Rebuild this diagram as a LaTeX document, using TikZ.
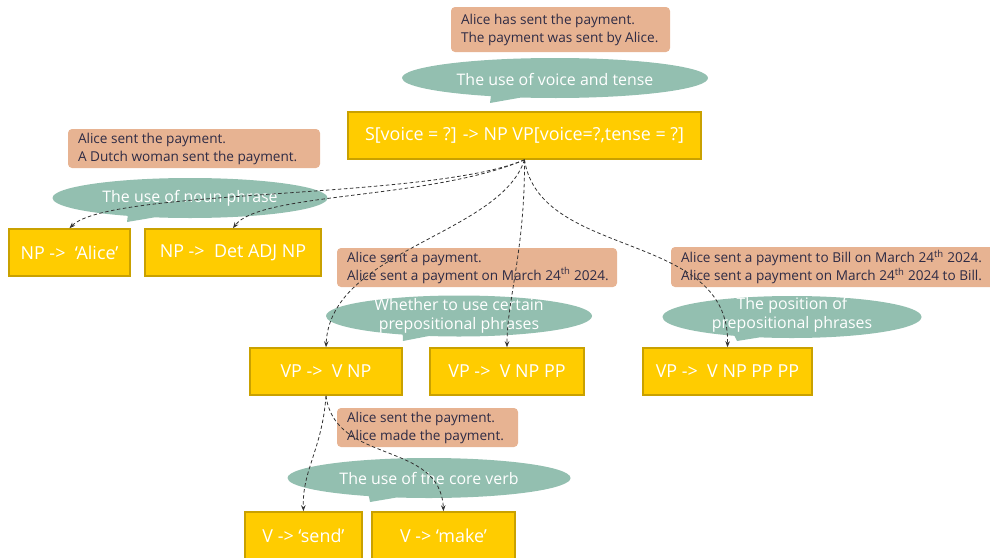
\documentclass[tikz,border=0pt]{standalone}
\usepackage{fontspec}
\setmainfont{Open Sans}
\usetikzlibrary{arrows.meta,shapes.callouts,shapes.geometric}
\definecolor{ybox}{HTML}{FFCC00}
\definecolor{yedge}{HTML}{C9A100}
\definecolor{salmon}{HTML}{E7B392}
\definecolor{teal}{HTML}{93BFB0}
\definecolor{ink}{HTML}{2E2B45}
\definecolor{conn}{HTML}{333333}
\begin{document}
\begin{tikzpicture}[x=1pt,y=-1pt,
  rule/.style={draw=yedge,line width=1.6pt,fill=ybox,text=white,inner sep=0pt,
    font=\fontsize{17.9}{21}\selectfont,minimum height=47pt},
  example/.style={fill=salmon,rounded corners=4pt,inner sep=0pt},
  extext/.style={text=ink,align=left,inner sep=0pt,anchor=west,
    font=\fontsize{13.6}{18}\selectfont},
  bubble/.style={ellipse callout,fill=teal,inner sep=0pt,callout pointer arc=12},
  btext/.style={text=white,align=center,font=\fontsize{15.9}{19.5}\selectfont,inner sep=0pt},
  conn/.style={draw=conn,dashed,dash pattern=on 3.5pt off 2.5pt,line width=0.8pt,-{Stealth[length=6pt,width=4.5pt]}}
]
\useasboundingbox (0,0) rectangle (990,557);

% examples
\node[example,minimum width=219pt,minimum height=45pt] (ex1) at (560.5,29.5) {};
\node[extext] (ex1t) at ([xshift=10pt]ex1.west)
  {Alice has sent the payment.\\The payment was sent by Alice.};
\node[example,minimum width=252pt,minimum height=39pt] (ex2) at (194,148.5) {};
\node[extext] (ex2t) at ([xshift=10pt]ex2.west)
  {Alice sent the payment.\\A Dutch woman sent the payment.};
\node[example,minimum width=280pt,minimum height=39pt] (ex3) at (477,267.5) {};
\node[extext] (ex3t) at ([xshift=10pt]ex3.west)
  {Alice sent a payment.\\Alice sent a payment on March 24\textsuperscript{th} 2024.};
\node[example,minimum width=325pt,minimum height=40pt] (ex4) at (833.5,267) {};
\node[extext] (ex4t) at ([xshift=10pt]ex4.west)
  {Alice sent a payment to Bill on March 24\textsuperscript{th} 2024.\\Alice sent a payment on March 24\textsuperscript{th} 2024 to Bill.};
\node[example,minimum width=181pt,minimum height=39pt] (ex5) at (427.5,427.5) {};
\node[extext] (ex5t) at ([xshift=10pt]ex5.west)
  {Alice sent the payment.\\Alice made the payment.};

% bubbles
\node[bubble,minimum width=306pt,minimum height=40pt,callout absolute pointer={(490,103)}] (b1) at (555,78) {};
\node[btext] (t1) at (555,79) {The use of voice and tense};
\node[bubble,minimum width=275pt,minimum height=40pt,callout absolute pointer={(127,222)}] (b2) at (190,198) {};
\node[btext] (t2) at (190,198) {The use of noun phrase};
\node[bubble,minimum width=266pt,minimum height=41pt,callout absolute pointer={(403,341)}] (b3) at (459,316) {};
\node[btext] (t3) at (459,316) {Whether to use certain\\prepositional phrases};
\node[bubble,minimum width=259pt,minimum height=42pt,callout absolute pointer={(737,341)}] (b4) at (792,317) {};
\node[btext] (t4) at (792,315) {The position of\\prepositional phrases};
\node[bubble,minimum width=283pt,minimum height=40pt,callout absolute pointer={(370,502)}] (b5) at (429,478) {};
\node[btext] (t5) at (429,478) {The use of the core verb};

% rules
\node[rule,minimum width=353pt] (s) at (524.5,135.5) {S[voice = ?] -> NP VP[voice=?,tense = ?]};
\node[rule,minimum width=121pt] (alice) at (69.5,252.5) {NP ->~ ‘Alice’};
\node[rule,minimum width=176pt] (det) at (233,252.5) {NP ->~ Det ADJ NP};
\node[rule,minimum width=152pt] (vpnp) at (326,371.5) {VP ->~ V NP};
\node[rule,minimum width=154pt] (vpnppp) at (507,371.5) {VP ->~ V NP PP};
\node[rule,minimum width=169pt] (vp3) at (727.5,371.5) {VP ->~ V NP PP PP};
\node[rule,minimum width=117pt] (send) at (303.5,535.5) {V -> ‘send’};
\node[rule,minimum width=143pt] (make) at (443.5,535.5) {V -> ‘make’};

% connectors
\draw[conn] (s.south) .. controls (430,200) and (110,188) .. (alice.north);
\draw[conn] (s.south) .. controls (430,200) and (260,192) .. (det.north);
\draw[conn] (s.south) .. controls (500,235) and (330,250) .. (vpnp.north);
\draw[conn] (s.south) .. controls (525,250) and (507,300) .. (vpnppp.north);
\draw[conn] (s.south) .. controls (540,260) and (730,230) .. (vp3.north);
\draw[conn] (vpnp.south) .. controls (322,450) and (302,470) .. (send.north);
\draw[conn] (vpnp.south) .. controls (335,465) and (440,440) .. (make.north);
\end{tikzpicture}
\end{document}
